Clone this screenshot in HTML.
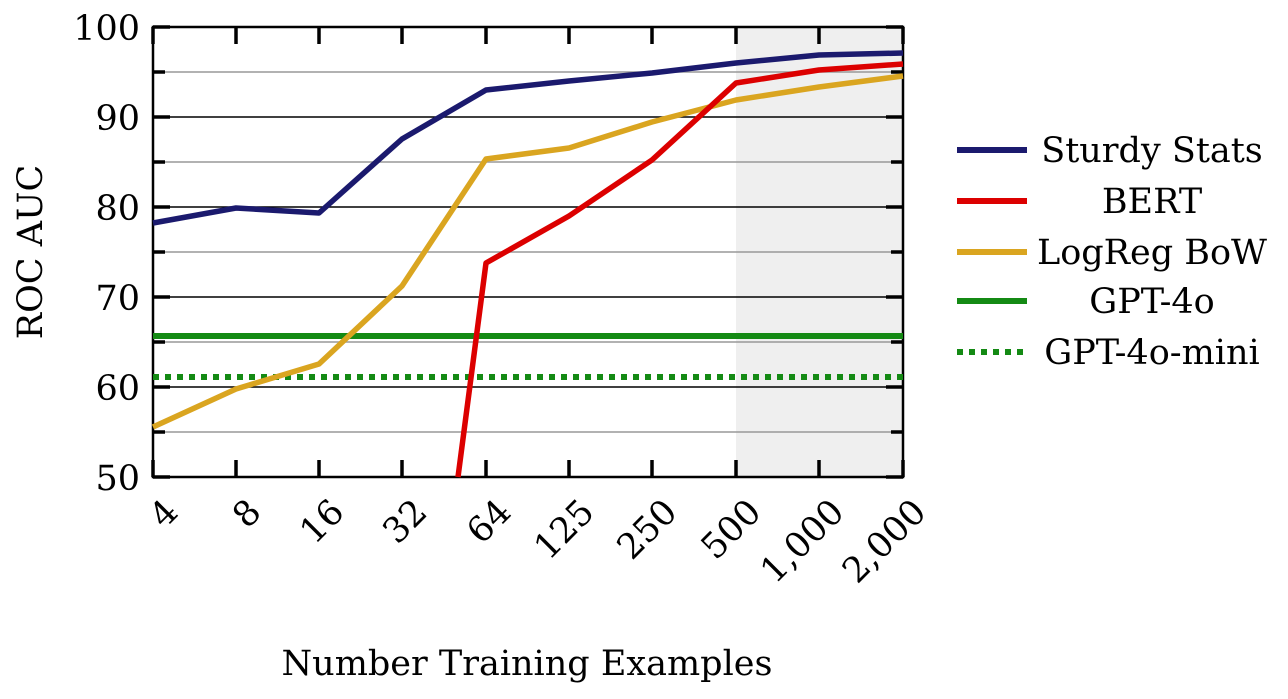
<!DOCTYPE html>
<html><head><style>body{margin:0;background:#fff}svg{display:block}text{font-family:"DejaVu Serif","Liberation Serif",serif;fill:#000}</style></head><body>
<svg width="1288" height="699" viewBox="0 0 1288 699">
<rect x="736" y="27" width="167" height="450" fill="#efefef"/>
<g stroke="#999" stroke-width="1.5">
<line x1="153" y1="72" x2="903" y2="72"/><line x1="153" y1="162" x2="903" y2="162"/><line x1="153" y1="252" x2="903" y2="252"/><line x1="153" y1="342" x2="903" y2="342"/><line x1="153" y1="432" x2="903" y2="432"/></g>
<g stroke="#000" stroke-width="1.5">
<line x1="153" y1="117" x2="903" y2="117"/><line x1="153" y1="207" x2="903" y2="207"/><line x1="153" y1="297" x2="903" y2="297"/><line x1="153" y1="387" x2="903" y2="387"/></g>
<g stroke="#000" stroke-width="3.5">
<path d="M153 27v17M236 27v17M319 27v17M402 27v17M486 27v17M569 27v17M652 27v17M736 27v17M819 27v17M903 27v17"/>
<path d="M153 477v-17M236 477v-17M319 477v-17M402 477v-17M486 477v-17M569 477v-17M652 477v-17M736 477v-17M819 477v-17M903 477v-17"/>
<path d="M153 27h17M153 117h17M153 207h17M153 297h17M153 387h17M153 477h17M153 72h12M153 162h12M153 252h12M153 342h12M153 432h12"/>
<path d="M903 27h-17M903 117h-17M903 207h-17M903 297h-17M903 387h-17M903 477h-17M903 72h-12M903 162h-12M903 252h-12M903 342h-12M903 432h-12"/>
</g>
<rect x="153" y="27" width="750" height="450" fill="none" stroke="#000" stroke-width="2.5"/>
<line x1="153" y1="336" x2="903" y2="336" stroke="#148a14" stroke-width="6"/>
<line x1="153" y1="377" x2="903" y2="377" stroke="#148a14" stroke-width="6" stroke-dasharray="6,6"/>
<polyline fill="none" stroke="#daa520" stroke-width="5.5" stroke-linejoin="round" points="153,427 236,389 319,364 402,286 486,159 569,148 652,122 736,100 819,87 903,76"/>
<polyline fill="none" stroke="#dc0000" stroke-width="5.5" stroke-linejoin="round" points="458,477 486,263 569,216 652,160 736,83 819,70 903,64"/>
<polyline fill="none" stroke="#1b1a6e" stroke-width="5.5" stroke-linejoin="round" points="153,223 236,208 319,213 402,139 486,90 569,81 652,73 736,63 819,55 903,53"/>
<g font-size="35" text-anchor="end">
<text x="140" y="40">100</text><text x="140" y="130">90</text><text x="140" y="220">80</text><text x="140" y="310">70</text><text x="140" y="400">60</text><text x="140" y="490">50</text>
</g>
<g font-size="35" text-anchor="end">
<text transform="translate(180,514) rotate(-45)">4</text>
<text transform="translate(263,514) rotate(-45)">8</text>
<text transform="translate(346,514) rotate(-45)">16</text>
<text transform="translate(429,514) rotate(-45)">32</text>
<text transform="translate(513,514) rotate(-45)">64</text>
<text transform="translate(596,514) rotate(-45)">125</text>
<text transform="translate(679,514) rotate(-45)">250</text>
<text transform="translate(763,514) rotate(-45)">500</text>
<text transform="translate(846,514) rotate(-45)">1,000</text>
<text transform="translate(928,514) rotate(-45)">2,000</text>
</g>
<text transform="translate(42,252) rotate(-90)" font-size="35" text-anchor="middle">ROC AUC</text>
<text x="527" y="675" font-size="35" text-anchor="middle">Number Training Examples</text>
<line x1="957" y1="150" x2="1027" y2="150" stroke="#1b1a6e" stroke-width="6"/>
<line x1="957" y1="201" x2="1027" y2="201" stroke="#dc0000" stroke-width="6"/>
<line x1="957" y1="252" x2="1027" y2="252" stroke="#daa520" stroke-width="6"/>
<line x1="957" y1="301" x2="1027" y2="301" stroke="#148a14" stroke-width="6"/>
<line x1="957" y1="352" x2="1027" y2="352" stroke="#148a14" stroke-width="6" stroke-dasharray="6,6"/>
<g font-size="35" text-anchor="middle">
<text x="1152" y="162">Sturdy Stats</text>
<text x="1152" y="213">BERT</text>
<text x="1152" y="264">LogReg BoW</text>
<text x="1152" y="313">GPT-4o</text>
<text x="1152" y="364">GPT-4o-mini</text>
</g>
</svg>
</body></html>
